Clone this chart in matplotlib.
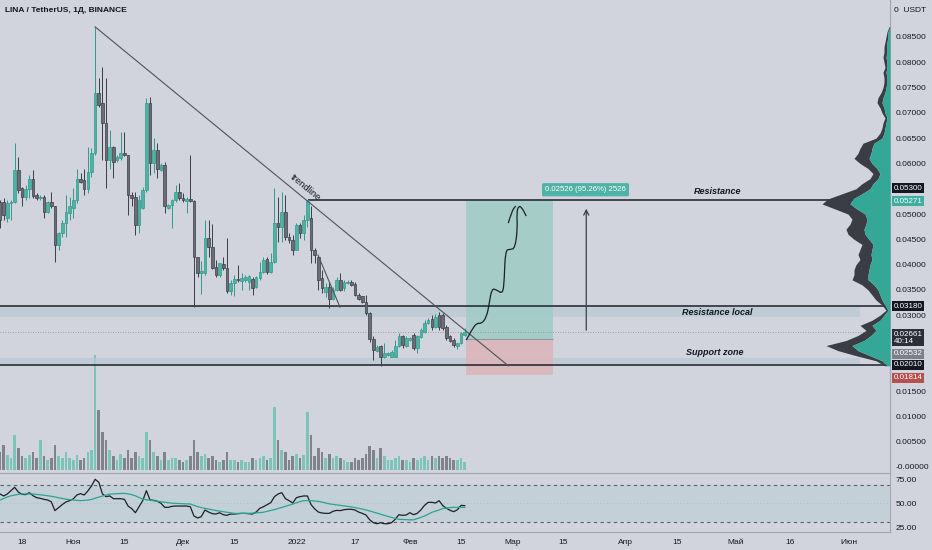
#imports
import matplotlib
matplotlib.use("Agg")
import matplotlib.pyplot as plt
import matplotlib.dates as mdates
from matplotlib.path import Path
from matplotlib.patches import PathPatch, Rectangle
from matplotlib.transforms import blended_transform_factory
import numpy as np
import pandas as pd

plt.rcParams['font.family'] = ['Liberation Sans', 'DejaVu Sans']

#data
start = pd.Timestamp('2021-10-12')

opens = [0.0524, 0.0524, 0.0492, 0.0521, 0.0524, 0.0587, 0.0551, 0.0534, 0.0549, 0.0569,
         0.0538, 0.0531, 0.0534, 0.0505, 0.0524, 0.0515, 0.0439, 0.0462, 0.0482, 0.0502,
         0.0511, 0.0528, 0.0569, 0.0567, 0.0549, 0.0584, 0.0620, 0.0739, 0.0719, 0.0679,
         0.0607, 0.0633, 0.0607, 0.0610, 0.0620, 0.0617, 0.0538, 0.0534, 0.0478, 0.0511,
         0.0548, 0.0719, 0.0600, 0.0627, 0.0587, 0.0597, 0.0511, 0.0518, 0.0528, 0.0544,
         0.0531, 0.0526, 0.0530, 0.0526, 0.0416, 0.0383, 0.0383, 0.0452, 0.0435, 0.0395,
         0.0380, 0.0402, 0.0393, 0.0347, 0.0363, 0.0371, 0.0368, 0.0370, 0.0366, 0.0371,
         0.0355, 0.0373, 0.0386, 0.0411, 0.0386, 0.0406, 0.0482, 0.0475, 0.0505, 0.0455,
         0.0449, 0.0429, 0.0478, 0.0462, 0.0488, 0.0492, 0.0429, 0.0416, 0.0373, 0.0346,
         0.0356, 0.0333, 0.0350, 0.0370, 0.0353, 0.0363, 0.0366, 0.0361, 0.0340, 0.0337,
         0.0327, 0.0304, 0.0252, 0.0230, 0.0239, 0.0218, 0.0221, 0.0218, 0.0218, 0.0239,
         0.0258, 0.0239, 0.0251, 0.0261, 0.0235, 0.0256, 0.0267, 0.0284, 0.0292, 0.0277,
         0.0300, 0.0300, 0.0276, 0.0258, 0.0251, 0.0239, 0.0245, 0.0260]
highs = [0.0528, 0.0532, 0.0528, 0.0528, 0.0640, 0.0613, 0.0554, 0.0557, 0.0577, 0.0587,
         0.0541, 0.0538, 0.0538, 0.0526, 0.0544, 0.0516, 0.0465, 0.0488, 0.0538, 0.0534,
         0.0551, 0.0590, 0.0581, 0.0590, 0.0633, 0.0630, 0.0870, 0.0768, 0.0791, 0.0768,
         0.0666, 0.0634, 0.0617, 0.0663, 0.0663, 0.0617, 0.0544, 0.0544, 0.0538, 0.0554,
         0.0729, 0.0732, 0.0650, 0.0640, 0.0601, 0.0603, 0.0520, 0.0529, 0.0557, 0.0561,
         0.0541, 0.0534, 0.0617, 0.0528, 0.0416, 0.0407, 0.0488, 0.0488, 0.0480, 0.0409,
         0.0404, 0.0415, 0.0452, 0.0370, 0.0380, 0.0399, 0.0383, 0.0380, 0.0380, 0.0376,
         0.0378, 0.0406, 0.0416, 0.0415, 0.0422, 0.0551, 0.0534, 0.0544, 0.0538, 0.0462,
         0.0459, 0.0482, 0.0482, 0.0498, 0.0528, 0.0515, 0.0432, 0.0419, 0.0389, 0.0364,
         0.0366, 0.0356, 0.0376, 0.0383, 0.0370, 0.0369, 0.0369, 0.0366, 0.0343, 0.0338,
         0.0340, 0.0307, 0.0258, 0.0241, 0.0241, 0.0245, 0.0227, 0.0231, 0.0251, 0.0264,
         0.0261, 0.0258, 0.0257, 0.0264, 0.0261, 0.0274, 0.0291, 0.0295, 0.0300, 0.0302,
         0.0307, 0.0304, 0.0281, 0.0261, 0.0254, 0.0246, 0.0267, 0.0274]
lows = [0.0472, 0.0488, 0.0484, 0.0488, 0.0521, 0.0541, 0.0515, 0.0528, 0.0531, 0.0531,
        0.0528, 0.0528, 0.0492, 0.0503, 0.0511, 0.0406, 0.0429, 0.0455, 0.0455, 0.0488,
        0.0492, 0.0521, 0.0561, 0.0538, 0.0541, 0.0574, 0.0617, 0.0712, 0.0607, 0.0551,
        0.0590, 0.0571, 0.0603, 0.0607, 0.0615, 0.0498, 0.0515, 0.0459, 0.0462, 0.0510,
        0.0544, 0.0577, 0.0581, 0.0571, 0.0585, 0.0502, 0.0510, 0.0472, 0.0524, 0.0528,
        0.0524, 0.0502, 0.0524, 0.0317, 0.0376, 0.0342, 0.0380, 0.0416, 0.0391, 0.0376,
        0.0376, 0.0389, 0.0343, 0.0340, 0.0337, 0.0366, 0.0350, 0.0366, 0.0350, 0.0340,
        0.0354, 0.0370, 0.0383, 0.0382, 0.0383, 0.0403, 0.0445, 0.0445, 0.0449, 0.0442,
        0.0419, 0.0428, 0.0452, 0.0449, 0.0475, 0.0403, 0.0403, 0.0350, 0.0344, 0.0336,
        0.0314, 0.0330, 0.0347, 0.0347, 0.0347, 0.0361, 0.0358, 0.0337, 0.0330, 0.0324,
        0.0300, 0.0248, 0.0212, 0.0228, 0.0200, 0.0215, 0.0219, 0.0217, 0.0217, 0.0238,
        0.0235, 0.0238, 0.0249, 0.0231, 0.0225, 0.0254, 0.0264, 0.0283, 0.0271, 0.0275,
        0.0271, 0.0271, 0.0251, 0.0247, 0.0238, 0.0233, 0.0243, 0.0258]
closes = [0.0488, 0.0498, 0.0521, 0.0524, 0.0587, 0.0548, 0.0534, 0.0549, 0.0569, 0.0536,
          0.0531, 0.0534, 0.0505, 0.0524, 0.0515, 0.0439, 0.0462, 0.0482, 0.0505, 0.0515,
          0.0528, 0.0569, 0.0564, 0.0549, 0.0584, 0.0620, 0.0739, 0.0716, 0.0679, 0.0607,
          0.0633, 0.0603, 0.0613, 0.0620, 0.0617, 0.0538, 0.0531, 0.0478, 0.0528, 0.0548,
          0.0719, 0.0600, 0.0627, 0.0590, 0.0597, 0.0515, 0.0518, 0.0528, 0.0544, 0.0531,
          0.0528, 0.0530, 0.0526, 0.0416, 0.0383, 0.0387, 0.0452, 0.0435, 0.0394, 0.0380,
          0.0403, 0.0393, 0.0347, 0.0363, 0.0371, 0.0370, 0.0373, 0.0376, 0.0378, 0.0353,
          0.0376, 0.0386, 0.0409, 0.0386, 0.0406, 0.0482, 0.0475, 0.0505, 0.0455, 0.0449,
          0.0429, 0.0478, 0.0462, 0.0488, 0.0528, 0.0429, 0.0419, 0.0370, 0.0353, 0.0356,
          0.0332, 0.0350, 0.0370, 0.0350, 0.0366, 0.0366, 0.0360, 0.0340, 0.0333, 0.0327,
          0.0304, 0.0252, 0.0231, 0.0238, 0.0217, 0.0225, 0.0225, 0.0228, 0.0239, 0.0258,
          0.0241, 0.0254, 0.0254, 0.0235, 0.0258, 0.0271, 0.0284, 0.0291, 0.0277, 0.0297,
          0.0276, 0.0274, 0.0254, 0.0250, 0.0241, 0.0245, 0.0264, 0.0266]

volumes = [180, 250, 150, 120, 350, 220, 140, 120, 150, 180,
           120, 300, 140, 100, 120, 250, 140, 120, 180, 120,
           100, 150, 100, 120, 180, 200, 1150, 600, 380, 300,
           200, 140, 100, 160, 120, 200, 120, 180, 140, 120,
           380, 300, 180, 140, 100, 180, 100, 120, 120, 100,
           80, 100, 140, 300, 180, 140, 160, 120, 140, 100,
           80, 100, 180, 100, 100, 80, 100, 80, 80, 120,
           100, 120, 140, 100, 120, 630, 300, 200, 180, 100,
           140, 160, 120, 150, 580, 350, 140, 220, 180, 120,
           160, 120, 140, 120, 100, 80, 80, 120, 100, 120,
           160, 240, 200, 120, 220, 140, 100, 100, 120, 140,
           100, 100, 80, 120, 100, 120, 140, 100, 140, 120,
           140, 120, 140, 120, 100, 100, 120, 80]

rsi = [60.1, 58.0, 60.1, 63.6, 67.2, 62.2, 59.7, 59.4, 61.5, 58.3,
       56.2, 55.5, 54.4, 53.7, 51.9, 42.4, 45.6, 48.8, 51.6, 53.0,
       54.8, 59.0, 60.5, 59.0, 63.3, 68.6, 75.7, 72.5, 60.1, 57.3,
       58.0, 55.1, 55.1, 55.1, 54.4, 47.3, 44.5, 40.2, 46.6, 53.0,
       63.6, 53.7, 53.4, 52.3, 50.2, 45.9, 45.9, 47.0, 47.3, 47.3,
       47.3, 47.3, 46.6, 36.7, 34.6, 36.0, 43.1, 40.9, 39.2, 38.8,
       40.2, 38.1, 37.4, 38.8, 38.8, 39.2, 39.5, 39.5, 39.2, 38.8,
       40.9, 44.9, 46.6, 48.8, 50.9, 57.3, 60.1, 61.5, 55.1, 53.0,
       50.5, 56.2, 57.3, 58.0, 58.0, 48.8, 44.2, 40.9, 39.9, 39.5,
       39.5, 41.7, 42.7, 42.4, 43.4, 43.8, 43.8, 43.1, 40.9, 39.5,
       37.8, 32.8, 29.6, 28.5, 29.6, 28.5, 28.5, 29.6, 33.2, 38.1,
       37.4, 37.8, 40.2, 38.1, 39.5, 43.1, 48.0, 51.2, 51.2, 50.5,
       53.0, 47.7, 44.9, 42.7, 41.3, 43.4, 48.0, 47.7]
rsi_ma = [53.7, 55.3, 56.9, 58.2, 59.0, 59.7, 60.1, 60.1, 60.1, 60.1,
          59.7, 59.2, 58.8, 58.3, 57.7, 56.9, 56.1, 55.3, 54.6, 54.1,
          53.7, 53.3, 53.0, 53.3, 53.6, 54.3, 55.6, 56.8, 57.9, 59.0,
          60.0, 60.2, 60.4, 60.6, 60.8, 60.2, 59.4, 58.1, 56.4, 54.7,
          54.0, 53.4, 52.9, 52.3, 51.8, 51.3, 50.8, 50.3, 50.1, 49.9,
          49.7, 49.6, 49.4, 48.0, 46.7, 45.6, 44.9, 44.1, 43.3, 42.5,
          41.9, 41.2, 40.6, 40.0, 39.5, 39.5, 39.5, 39.5, 39.5, 39.7,
          40.0, 40.3, 40.7, 41.6, 42.5, 43.5, 44.7, 46.0, 47.2, 48.2,
          49.3, 50.8, 52.0, 53.0, 53.0, 53.0, 52.6, 52.2, 51.5, 50.6,
          49.6, 49.0, 48.5, 48.0, 47.5, 47.0, 46.4, 45.7, 44.9, 44.1,
          43.2, 42.1, 41.0, 39.8, 38.6, 37.5, 36.2, 35.2, 34.2, 33.2,
          33.0, 32.8, 32.6, 32.6, 33.9, 35.2, 36.7, 38.6, 40.6, 41.8,
          43.1, 44.7, 45.2, 45.6, 45.9, 45.9, 45.9, 45.9]

# visible range volume profile, one row per 0.001 from 0.020 to 0.087
profile_prices = np.round(np.arange(0.020, 0.0875, 0.001), 3)
profile_up = [3, 8, 20, 32, 38, 26, 19, 14, 18, 10,
              6, 2, 5, 8, 10, 12, 16, 22, 22, 21,
              20, 18, 19, 18, 17, 21, 25, 26, 24, 23,
              25, 33, 40, 37, 28, 20, 17, 12, 10, 13,
              18, 21, 19, 18, 16, 8, 6, 5, 4, 3,
              5, 6, 8, 7, 5, 4, 3, 3, 4, 3,
              3, 4, 3, 3, 3, 2, 2, 0]
profile_down = [2, 6, 14, 20, 26, 18, 13, 10, 12, 8,
                4, 2, 3, 6, 8, 10, 12, 16, 14, 15,
                14, 12, 13, 12, 11, 15, 17, 18, 16, 15,
                17, 22, 28, 25, 20, 14, 11, 8, 7, 9,
                12, 15, 13, 12, 11, 6, 4, 3, 3, 2,
                3, 4, 5, 5, 4, 3, 3, 3, 3, 2,
                3, 3, 3, 3, 2, 2, 1, 1]

tick_dates = ['2021-10-18', '2021-11-01', '2021-11-15', '2021-12-01', '2021-12-15',
              '2022-01-01', '2022-01-17', '2022-02-01', '2022-02-15', '2022-03-01',
              '2022-03-15', '2022-04-01', '2022-04-15', '2022-05-01', '2022-05-16',
              '2022-06-01']
tick_labels = ['18', 'Ноя', '15', 'Дек', '15', '2022', '17', 'Фев', '15', 'Мар',
               '15', 'Апр', '15', 'Май', '16', 'Июн']

# scale marks that stay visible (0.055, 0.025 and 0.020 sit under price labels)
price_ticks = [0.0, 0.005, 0.010, 0.015, 0.030, 0.035, 0.040, 0.045,
               0.050, 0.060, 0.065, 0.070, 0.075, 0.080, 0.085]
rsi_ticks = [25, 50, 75]

# drawings: x in days from the first candle, y in price
trend_main_x, trend_main_y = [26.0, 138.9], [0.0870, 0.0200]
trend_small_x, trend_small_y = [86.9, 92.9], [0.0419, 0.0316]
resistance = 0.0527
resistance_start = 84.2
res_local_zone = (0.0296, 0.0318)
support_zone = (0.0201, 0.0216)
zone_end = 235.0
last_price = 0.02661
entry, target, stop = 0.02532, 0.05271, 0.01814
position_x = (127.4, 151.1)
arrow_x, arrow_y = 160.2, (0.0265, 0.0516)
curve_x = [127.4, 128.9, 130.3, 131.6, 133.0, 133.7, 134.4, 135.7, 137.4, 137.8,
           138.1, 139.4, 140.7, 141.4, 141.2, 141.7, 142.6, 143.8]
curve_y = [0.0251, 0.0271, 0.0285, 0.0283, 0.0297, 0.0324, 0.0353, 0.0350, 0.0342, 0.0370,
           0.0429, 0.0430, 0.0432, 0.0469, 0.0504, 0.0516, 0.0513, 0.0496]
hook_x = [138.9, 139.8, 140.9]
hook_y = [0.0482, 0.0505, 0.0516]

#colors
BG = '#d1d4dc'
TEAL = '#4db3a6'
TEAL_EDGE = '#33998c'
GREY = '#6b6e76'
GREY_EDGE = '#3b3e45'
INK = '#131722'
ZONE = '#b9c9d3'

#functions
def smooth_path(xs, ys):
	# quadratic bezier through midpoints of the hand drawn points
	pts = list(zip(xs, ys))
	verts = [pts[0]]
	codes = [Path.MOVETO]
	for i in range(1, len(pts) - 1):
		mid = ((pts[i][0] + pts[i + 1][0]) / 2, (pts[i][1] + pts[i + 1][1]) / 2)
		verts += [pts[i], mid]
		codes += [Path.CURVE3, Path.CURVE3]
	verts.append(pts[-1])
	codes.append(Path.LINETO)
	return Path(verts, codes)

def price_label(ax, price, text, face, dy_px=0, color='white'):
	# dy_px: shift of the box in pixels (positive is up), as tradingview stacks close labels
	tr = blended_transform_factory(ax.transAxes, ax.transData)
	ax.annotate(text, xy=(1, price), xycoords=tr, xytext=(2.5, dy_px * 0.72), textcoords='offset points',
		ha='left', va='center', fontsize=5.8, color=color, annotation_clip=False, linespacing=1.05,
		bbox=dict(boxstyle='square,pad=0.18', fc=face, ec='none'))

#init
W, H = 932, 550
fig = plt.figure(figsize=(W / 100, H / 100), dpi=100)
fig.patch.set_facecolor(BG)

rect_main = [0, 1 - 473 / H, 890 / W, 473 / H]
axv = fig.add_axes(rect_main)
ax = fig.add_axes(rect_main, sharex=axv)
axp = fig.add_axes(rect_main)
axr = fig.add_axes([0, 1 - 532 / H, 890 / W, 59 / H], sharex=axv)

t0 = mdates.date2num(start)
n = len(opens)
x = t0 + np.arange(n)
o, h, l, c = map(np.array, (opens, highs, lows, closes))
up = c >= o

# volume
axv.set_facecolor(BG)
axv.bar(x, volumes, width=0.72, color=np.where(up, '#7cc3b9', '#80838a'), linewidth=0)
axv.set_ylim(-30, 4700)
axv.axis('off')

# zones and lines
ax.set_facecolor('none')
ax.fill_between([t0 - 5, t0 + zone_end], *res_local_zone, color=ZONE, alpha=0.7, lw=0, zorder=1)
ax.fill_between([t0 - 5, t0 + zone_end], *support_zone, color=ZONE, alpha=0.7, lw=0, zorder=1)
ax.axhline(res_local_zone[1], color='#2a2e39', lw=1.2, zorder=3)
ax.axhline(support_zone[0], color='#2a2e39', lw=1.2, zorder=3)
ax.hlines(resistance, t0 + resistance_start, t0 + 300, color='#2a2e39', lw=1.2, zorder=3)
ax.axhline(last_price, color='#8a8d95', lw=0.6, ls=(0, (1, 2)), zorder=2)

# position tool
px0, px1 = t0 + position_x[0], t0 + position_x[1]
ax.add_patch(Rectangle((px0, entry), px1 - px0, target - entry, fc='#9ccbc4', ec='none', alpha=0.8, zorder=1.5))
ax.add_patch(Rectangle((px0, stop), px1 - px0, entry - stop, fc='#dcb6bb', ec='none', alpha=0.9, zorder=1.5))
ax.hlines(entry, px0, px1, color='#8a9a9a', lw=0.8, zorder=2)

# candles
ax.vlines(x[up], l[up], h[up], color=TEAL_EDGE, lw=0.7, zorder=4)
ax.vlines(x[~up], l[~up], h[~up], color=GREY_EDGE, lw=0.7, zorder=4)
body = np.maximum(np.abs(c - o), 0.00012)
ax.bar(x, body, bottom=np.minimum(o, c), width=0.72, color=np.where(up, TEAL, GREY),
	edgecolor=np.where(up, TEAL_EDGE, GREY_EDGE), linewidth=0.5, zorder=5)

# drawings
ax.plot(t0 + np.array(trend_main_x), trend_main_y, color='#50535c', lw=0.8, zorder=6)
ax.plot(t0 + np.array(trend_small_x), trend_small_y, color='#50535c', lw=0.8, zorder=6)
ax.add_patch(PathPatch(smooth_path(t0 + np.array(curve_x), curve_y), fc='none', ec='#1c1f26', lw=0.9, zorder=6))
ax.add_patch(PathPatch(smooth_path(t0 + np.array(hook_x), hook_y), fc='none', ec='#1c1f26', lw=0.9, zorder=6))
ax.annotate('', xy=(t0 + arrow_x, arrow_y[1]), xytext=(t0 + arrow_x, arrow_y[0]),
	arrowprops=dict(arrowstyle='->', color='#3b3e45', lw=0.9, mutation_scale=9), zorder=6)

ax.text(t0 + 83.6, 0.0552, 'trendline', rotation=-39.4, rotation_mode='anchor', ha='center', va='center',
	fontsize=6.8, color=INK, zorder=7)
ax.text(t0 + 196.2, 0.0544, 'Resistance', ha='center', va='center', fontsize=6.5, style='italic',
	weight='bold', color=INK, zorder=7)
ax.text(t0 + 196.0, 0.0306, 'Resistance local', ha='center', va='center', fontsize=6.5, style='italic',
	weight='bold', color=INK, zorder=7)
ax.text(t0 + 195.4, 0.0227, 'Support zone', ha='center', va='center', fontsize=6.5, style='italic',
	weight='bold', color=INK, zorder=7)
ax.text(t0 + 160.0, 0.0548, '0.02526 (95.26%) 2526', ha='center', va='center', fontsize=5.6, color='white',
	zorder=8, bbox=dict(boxstyle='round,pad=0.4,rounding_size=0.2', fc='#4fb2a6', ec='none'))

# price axis
ax.set_ylim(-0.00119, 0.09231)
ax.set_xlim(t0, t0 + 243.2)
ax.yaxis.tick_right()
ax.set_yticks(price_ticks)
ax.set_yticklabels(['-0.00000' if v == 0 else f'{v:.5f}' for v in price_ticks])
ax.tick_params(axis='y', length=0, pad=4, labelsize=6, labelcolor=INK)
ax.tick_params(axis='x', length=0, labelbottom=False)
for s in ['top', 'left']:
	ax.spines[s].set_visible(False)
ax.spines['right'].set_color('#a3a6ae')
ax.spines['bottom'].set_color('#a3a6ae')
ax.set_zorder(2)

price_label(ax, 0.05300, '0.05300', '#131722', dy_px=10.5)
price_label(ax, target, '0.05271', '#3fae9f', dy_px=-1)
price_label(ax, 0.03180, '0.03180', '#131722')
price_label(ax, last_price, '0.02661\n40:14', '#2a2e39', dy_px=-5.5)
price_label(ax, entry, '0.02532', '#7d8088', dy_px=-15)
price_label(ax, support_zone[0], '0.02010', '#131722', dy_px=0.5)
price_label(ax, stop, '0.01814', '#b5504f', dy_px=-2.5)

# volume profile, up volume from the price scale, down volume beyond it
axp.set_facecolor('none')
pu = np.array(profile_up, dtype=float)
tot = pu + np.array(profile_down)
axp.fill_betweenx(profile_prices, pu, tot, color='#3a3d44', lw=0)
axp.fill_betweenx(profile_prices, 0, pu, color='#35a797', lw=0)
axp.set_xlim(tot.max() * 890 / 68, 0)
axp.set_ylim(ax.get_ylim())
axp.axis('off')
axp.set_zorder(3)

# rsi
axr.set_facecolor(BG)
axr.axhspan(30, 70, color='#c4d0d8', lw=0)
axr.axhline(70, color='#5d6068', lw=0.8, ls=(0, (3, 3)))
axr.axhline(30, color='#5d6068', lw=0.8, ls=(0, (3, 3)))
axr.axhline(50, color='#aab3ba', lw=0.6, ls=(0, (1, 3)))
axr.plot(x, rsi, color='#1c1f26', lw=0.9)
axr.plot(x, rsi_ma, color='#2aa394', lw=0.9)
axr.set_ylim(19.7, 82.4)
axr.yaxis.tick_right()
axr.set_yticks(rsi_ticks)
axr.set_yticklabels([f'{v:.2f}' for v in rsi_ticks])
axr.set_xticks([mdates.date2num(pd.Timestamp(d)) for d in tick_dates])
axr.set_xticklabels(tick_labels)
axr.tick_params(axis='both', length=0, labelsize=6, labelcolor=INK)
axr.tick_params(axis='x', pad=5)
axr.tick_params(axis='y', pad=4)
for s in ['top', 'left']:
	axr.spines[s].set_visible(False)
axr.spines['right'].set_color('#a3a6ae')
axr.spines['bottom'].set_color('#a3a6ae')
axr.set_xlim(t0, t0 + 243.2)

fig.text(5 / W, 1 - 10 / H, 'LINA / TetherUS, 1Д, BINANCE', fontsize=6, weight='bold', color=INK, va='center')
fig.text(894 / W, 1 - 11 / H, '0  USDT', fontsize=6, color=INK, va='center')

fig.savefig('out.png', dpi=100, facecolor=BG)
